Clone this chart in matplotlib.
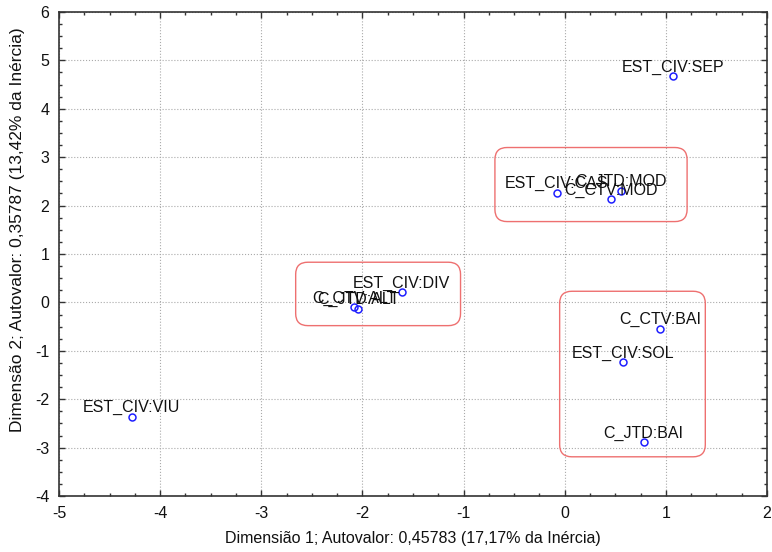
import matplotlib
matplotlib.use("Agg")
import matplotlib.pyplot as plt
from matplotlib.patches import FancyBboxPatch
from matplotlib.ticker import MultipleLocator

plt.rcParams['font.family'] = ['Liberation Sans', 'DejaVu Sans']
plt.rcParams['axes.unicode_minus'] = False

labels = ["EST_CIV:SEP", "EST_CIV:CAS", "C_JTD:MOD", "C_CTV:MOD",
          "EST_CIV:DIV", "C_CTV:ALT", "C_JTD:ALT",
          "C_CTV:BAI", "EST_CIV:SOL", "C_JTD:BAI", "EST_CIV:VIU"]
dim1 = [1.07, -0.08, 0.56, 0.46, -1.61, -2.08, -2.04, 0.94, 0.58, 0.78, -4.28]
dim2 = [4.67, 2.27, 2.31, 2.13, 0.21, -0.10, -0.14, -0.54, -1.24, -2.89, -2.36]

# highlighted groups: (x0, x1, y0, y1)
groups = [(-2.66, -1.03, -0.48, 0.83),
          (-0.69, 1.21, 1.67, 3.20),
          (-0.05, 1.39, -3.19, 0.23)]

xlabel = "Dimensião 1; Autovalor: 0,45783 (17,17% da Inércia)"
ylabel = "Dimensão 2; Autovalor: 0,35787 (13,42% da Inércia)"

fig = plt.figure(figsize=(7.72, 5.52), dpi=100)
ax = fig.add_axes([59/772, 1-496/552, (767-59)/772, (496-12)/552])

ax.set_xlim(-5, 2)
ax.set_ylim(-4, 6)
ax.xaxis.set_major_locator(MultipleLocator(1))
ax.yaxis.set_major_locator(MultipleLocator(1))
ax.xaxis.set_minor_locator(MultipleLocator(0.25))
ax.yaxis.set_minor_locator(MultipleLocator(0.25))
ax.tick_params(which='both', direction='in', top=True, right=True, colors='#333333',
               labelcolor='#111111', labelsize=11.5)
ax.tick_params(which='major', length=4, width=1, pad=7)
ax.tick_params(which='minor', length=2.5, width=1)
ax.grid(True, which='major', linestyle=':', color='#aaaaaa', linewidth=0.8)
for s in ax.spines.values():
    s.set_color('#333333')
    s.set_linewidth(1.2)

for (x0, x1, y0, y1) in groups:
    p = FancyBboxPatch((x0, y0), x1 - x0, y1 - y0,
                       boxstyle="round,pad=0,rounding_size=0.12",
                       mutation_aspect=2.08, fill=False,
                       edgecolor='#ee7070', linewidth=1.0, zorder=2)
    ax.add_patch(p)

ax.plot(dim1, dim2, 'o', markerfacecolor='none', markeredgecolor='#1f1fff',
        markersize=5, markeredgewidth=1.1, zorder=3)
for lab, x, y in zip(labels, dim1, dim2):
    ax.annotate(lab, (x, y), xytext=(0, 3.5), textcoords='offset points',
                ha='center', va='baseline', fontsize=11.5, color='#111111', zorder=4)

ax.set_xlabel(xlabel, fontsize=11.5, color='#111111')
ax.set_ylabel(ylabel, fontsize=12.5, color='#111111')
ax.xaxis.set_label_coords(0.5, -(539 - 496) / 484, transform=ax.transAxes)
ax.yaxis.set_label_coords(-(59 - 18) / 708, (496 - 230) / 484, transform=ax.transAxes)
ax.xaxis.label.set_va('center')
ax.yaxis.label.set_va('center')

fig.savefig("out.png", dpi=100)
